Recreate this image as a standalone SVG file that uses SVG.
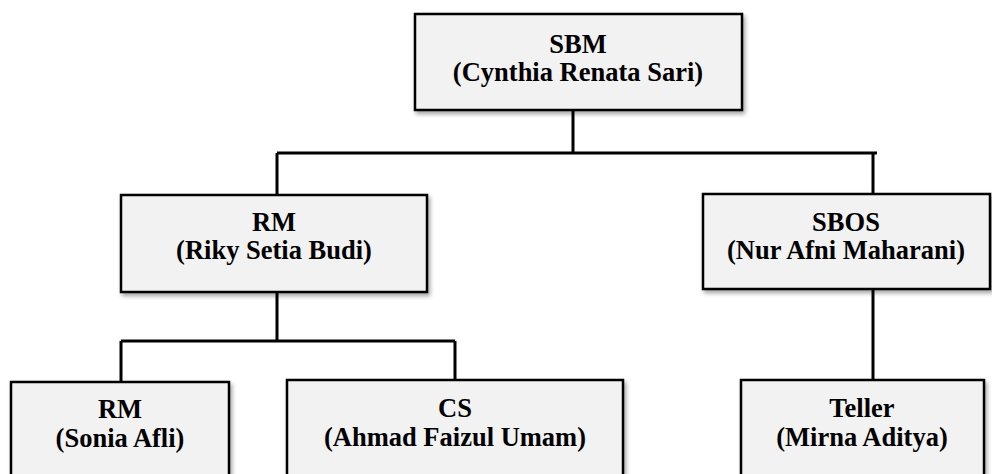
<svg xmlns="http://www.w3.org/2000/svg" width="992" height="474" viewBox="0 0 992 474">
<defs>
<filter id="sh" x="-10%" y="-10%" width="120%" height="130%">
<feDropShadow dx="2" dy="3" stdDeviation="2" flood-color="#000" flood-opacity="0.35"/>
</filter>
<style>
.box{fill:#f2f2f2;stroke:#000;stroke-width:2.5;filter:url(#sh)}
.t{font-family:'Liberation Serif','DejaVu Serif',serif;font-weight:700;font-size:26.5px;fill:#000;text-anchor:middle}
.c{fill:none;stroke:#000;stroke-width:3}
</style>
</defs>
<rect width="992" height="474" fill="#fff"/>
<g id="connectors">
<path class="c" d="M573 110 V153 M277 153 H877 M277 153 V195 M873 153 V194"/>
<path class="c" d="M277 292 V341 M121 341 H455 M121 341 V382 M455 341 V380"/>
<path class="c" d="M873 289 V380"/>
</g>
<g id="sbm">
<rect class="box" x="415" y="14" width="327" height="96"/>
<text class="t" x="578" y="53" font-family="Liberation Serif, serif">SBM</text>
<text class="t" x="578" y="81" font-family="Liberation Serif, serif">(Cynthia Renata Sari)</text>
</g>
<g id="rm1">
<rect class="box" x="121" y="195" width="306" height="97"/>
<text class="t" x="274" y="231" font-family="Liberation Serif, serif">RM</text>
<text class="t" x="274" y="259" font-family="Liberation Serif, serif">(Riky Setia Budi)</text>
</g>
<g id="sbos">
<rect class="box" x="703" y="194" width="287" height="95"/>
<text class="t" x="846" y="231" font-family="Liberation Serif, serif">SBOS</text>
<text class="t" x="846" y="259" font-family="Liberation Serif, serif">(Nur Afni Maharani)</text>
</g>
<g id="rm2">
<rect class="box" x="11" y="382" width="218" height="100"/>
<text class="t" x="120" y="418" font-family="Liberation Serif, serif">RM</text>
<text class="t" x="120" y="447" font-family="Liberation Serif, serif">(Sonia Afli)</text>
</g>
<g id="cs">
<rect class="box" x="287" y="380" width="336" height="100"/>
<text class="t" x="455" y="417" font-family="Liberation Serif, serif">CS</text>
<text class="t" x="455" y="446" font-family="Liberation Serif, serif">(Ahmad Faizul Umam)</text>
</g>
<g id="teller">
<rect class="box" x="741" y="380" width="243" height="100"/>
<text class="t" x="862" y="417" font-family="Liberation Serif, serif">Teller</text>
<text class="t" x="862" y="446" font-family="Liberation Serif, serif">(Mirna Aditya)</text>
</g>
</svg>
